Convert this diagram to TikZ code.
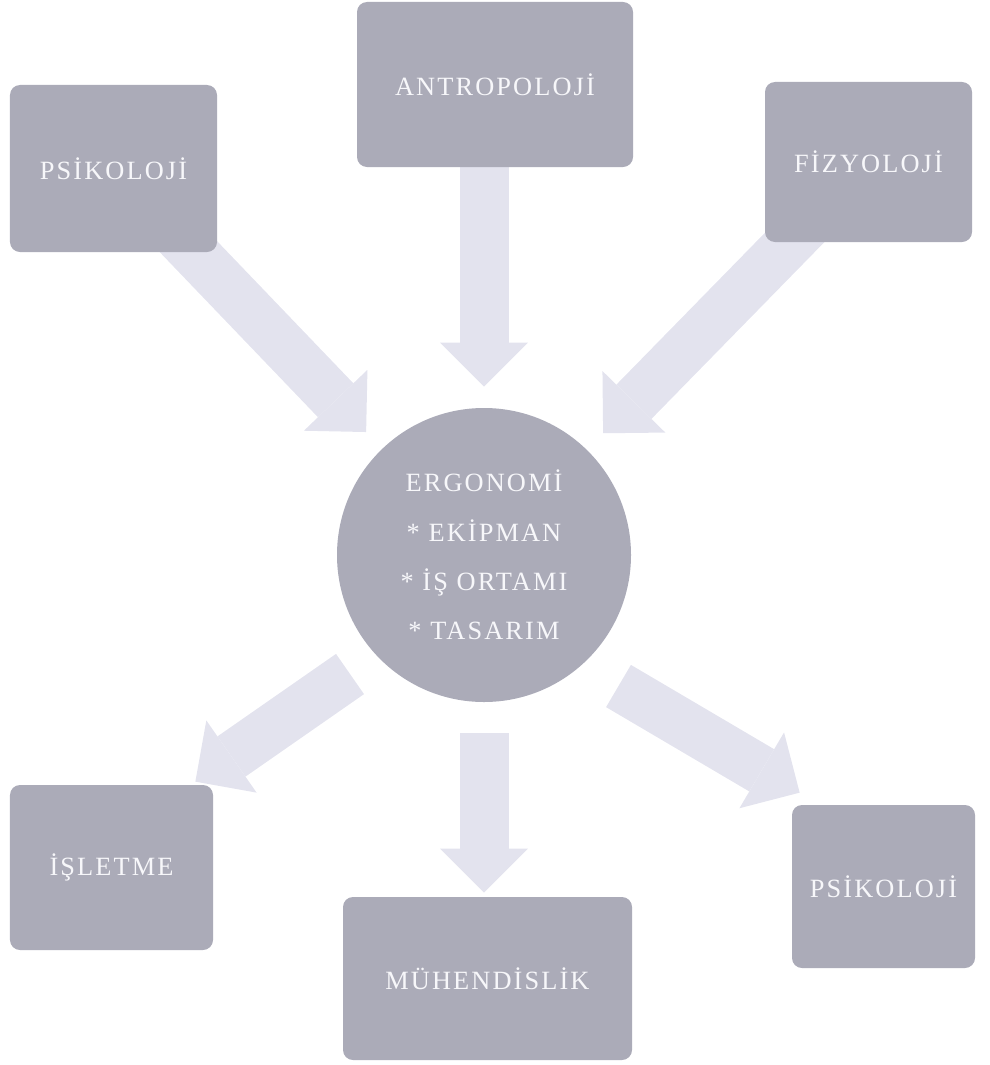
\documentclass[tikz,border=0pt]{standalone}
\usepackage{fontspec}
\setmainfont{Liberation Serif}[LetterSpace=8]
\usetikzlibrary{arrows.meta,backgrounds}
\definecolor{ergogray}{HTML}{ABABB8}
\definecolor{ergolilac}{HTML}{E3E3EE}
\definecolor{ergotext}{HTML}{F7F7FA}
\tikzset{
  fieldbox/.style={
    rounded corners=2mm,
    fill=ergogray,
    text=ergotext,
    inner sep=0pt,
    align=center,
    font=\fontsize{15}{18}\selectfont
  },
  centercircle/.style={
    circle,
    fill=ergogray,
    text=ergotext,
    minimum size=58.8mm,
    inner sep=0pt,
    align=center,
    font=\fontsize{15}{28}\selectfont
  },
  blockarrow/.style={
    -{Triangle[length=8.8mm,width=17.6mm,line width=0pt]},
    line width=9.8mm,
    draw=ergolilac
  }
}

\begin{document}
\begin{tikzpicture}[x=0.2mm,y=0.2mm]
\useasboundingbox (0,0) rectangle (990,-1065);
% disciplines feeding in
\node[fieldbox, minimum width=41.4mm, minimum height=33.4mm] (psyA) at (113.5,-168.5) {PSİKOLOJİ};
\node[fieldbox, minimum width=55.2mm, minimum height=33mm] (antro) at (495,-84.5) {ANTROPOLOJİ};
\node[fieldbox, minimum width=41.4mm, minimum height=32mm] (fizyo) at (868.5,-162) {FİZYOLOJİ};
% centre
\node[centercircle] (ergo) at (484,-555) {ERGONOMİ\\{*} EKİPMAN\\{*} İŞ ORTAMI\\{*} TASARIM};
% fields fed out
\node[fieldbox, minimum width=40.6mm, minimum height=33mm] (isl) at (111.5,-867.5) {İŞLETME};
\node[fieldbox, minimum width=57.8mm, minimum height=32.6mm] (mueh) at (487.5,-978.5) {MÜHENDİSLİK};
\node[fieldbox, minimum width=36.6mm, minimum height=32.6mm] (psyB) at (883.5,-886.5) {PSİKOLOJİ};
\begin{scope}[on background layer]
\draw[blockarrow, shorten >=4.6mm] (psyA.center) -- (ergo);
\draw[blockarrow, shorten >=4.2mm] (antro.center -| ergo.center) -- (ergo.north);
\draw[blockarrow, shorten >=4.6mm] (fizyo.center) -- (ergo);
\draw[blockarrow] ([shift={(-134,-119)}]ergo.center) -- ([shift={(-18,3)}]isl.north east);
\draw[blockarrow, shorten <=6.2mm, shorten >=0.8mm] (ergo.south) -- (ergo.south |- mueh.north);
\draw[blockarrow] ([shift={(134.5,-131)}]ergo.center) -- ([shift={(8,12)}]psyB.north west);
\end{scope}
\end{tikzpicture}
\end{document}
